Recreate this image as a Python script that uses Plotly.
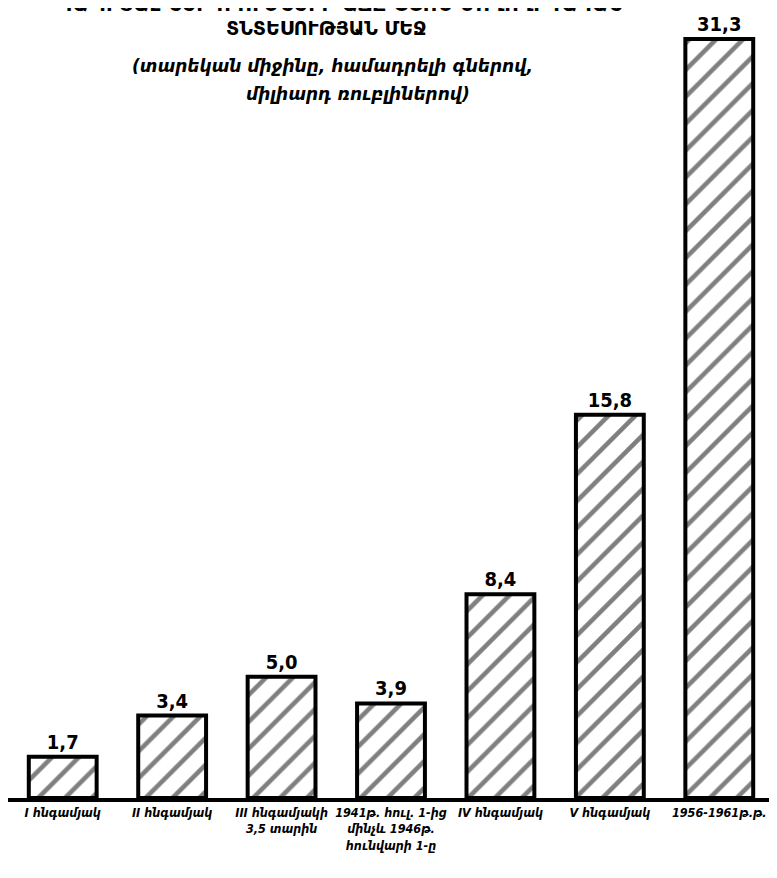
import plotly.graph_objects as go

categories = [
    "I հնգամյակ",
    "II հնգամյակ",
    "III հնգամյակի<br>3,5 տարին",
    "1941թ. հուլ. 1-ից<br>մինչև 1946թ.<br>հունվարի 1-ը",
    "IV հնգամյակ",
    "V հնգամյակ",
    "1956-1961թ.թ.",
]
values = [1.7, 3.4, 5.0, 3.9, 8.4, 15.8, 31.3]
value_labels = [f"{v:.1f}".replace(".", ",") for v in values]

title_lines = [
    "ԿԱՊԻՏԱԼ ՆԵՐԴՐՈՒՄՆԵՐԻ ԱՃԸ ՍՍՌՄ ԺՈՂՈՎՐԴԱԿԱՆ",
    "ՏՆՏԵՍՈՒԹՅԱՆ ՄԵՋ",
]
subtitle_lines = [
    "(տարեկան միջինը, համադրելի գներով,",
    "միլիարդ ռուբլիներով)",
]

# The page body adds an 8px offset; figure coordinates below are screen - 8.
OFF = 8
W, H = 769, 870
L, R, T, B = 0, 3, 14, 80
plot_w = W - L - R
plot_h = H - T - B


def px(sx):
    return (sx - OFF - L) / plot_w


def py(sy):
    return (H - B - (sy - OFF)) / plot_h


fig = go.Figure()
fig.add_trace(go.Bar(
    x=categories,
    y=values,
    text=value_labels,
    textposition="outside",
    textfont=dict(family="DejaVu Sans Condensed", size=20, color="black", weight="bold"),
    cliponaxis=False,
    marker=dict(
        color="white",
        line=dict(color="black", width=4),
        pattern=dict(shape="/", fgcolor="black", bgcolor="white", size=19, solidity=0.24),
    ),
    width=0.62,
))

title_font = dict(family="DejaVu Sans", weight="bold", color="black")
sub_font = dict(family="DejaVu Sans", size=17, style="italic", weight="bold", color="black")

annotations = [
    dict(text=title_lines[0], x=px(340), y=py(4), font=dict(size=20, **title_font)),
    dict(text=title_lines[1], x=px(326), y=py(28), font=dict(size=19, **title_font)),
    dict(text=subtitle_lines[0], x=px(332), y=py(66), font=sub_font),
    dict(text=subtitle_lines[1], x=px(358), y=py(94), font=sub_font),
]
for a in annotations:
    a.update(xref="paper", yref="paper", xanchor="center", yanchor="middle", showarrow=False)

fig.update_layout(
    width=W,
    height=H,
    margin=dict(l=L, r=R, t=T, b=B, pad=0),
    paper_bgcolor="white",
    plot_bgcolor="white",
    showlegend=False,
    annotations=annotations,
    xaxis=dict(
        showline=True, linecolor="black", linewidth=4,
        showgrid=False, zeroline=False, ticks="",
        tickfont=dict(family="DejaVu Sans Condensed", size=12.5, style="italic", weight="bold", color="black"),
        tickangle=0,
    ),
    yaxis=dict(
        range=[0, 32], visible=False, showgrid=False, zeroline=False,
    ),
)

fig.write_html("out.html")
